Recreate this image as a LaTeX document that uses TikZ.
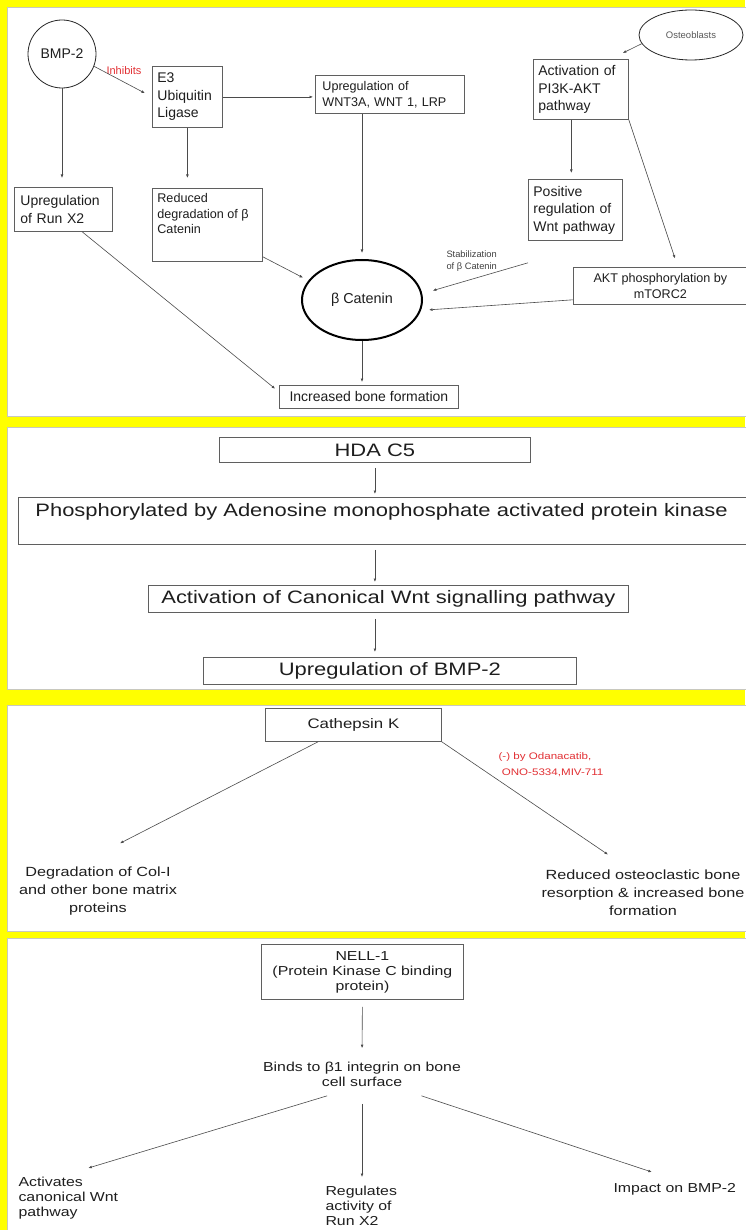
\documentclass[tikz,border=0pt]{standalone}
\usepackage{fontspec}
\setmainfont{Liberation Sans}
\newfontfamily\wf[FakeStretch=1.22]{Liberation Sans}
\usetikzlibrary{arrows.meta,shapes.geometric,calc}
\definecolor{ybg}{RGB}{255,255,0}
\definecolor{lnc}{RGB}{75,75,75}
\definecolor{bxc}{RGB}{95,95,95}
\definecolor{txc}{RGB}{30,30,30}
\definecolor{rdc}{RGB}{226,48,52}
\definecolor{pbc}{RGB}{200,200,190}
\begin{document}
\begin{tikzpicture}[x=1pt,y=-1pt,
  every node/.style={text=txc},
  bbox/.style={draw=bxc, line width=0.8pt, fill=white, inner sep=0pt, anchor=north west},
  arr/.style={draw=lnc, line width=0.6pt, -{Latex[length=3.5pt,width=2.8pt]}},
  panel/.style={fill=white, draw=pbc, line width=0.6pt},
  fa/.style={font=\fontsize{14}{17.5}\selectfont},
  fb/.style={font=\fontsize{12.6}{15.7}\selectfont},
  fw/.style={font=\wf\fontsize{18}{21}\selectfont},
  fc/.style={font=\wf\fontsize{13.3}{18}\selectfont},
  fd/.style={font=\wf\fontsize{13}{15}\selectfont}
]
\useasboundingbox (0,0) rectangle (745,1230);
\fill[ybg] (0,0) rectangle (745,1230);
\draw[panel] (7,7) rectangle (747,416);
\draw[panel] (7,427) rectangle (747,689);
\draw[panel] (7,705) rectangle (747,931);
\draw[panel] (7,938) rectangle (747,1232);

% ---------- panel 1
\node[circle, draw=black!85, line width=0.8pt, minimum size=68pt, inner sep=0pt, fa] (bmp) at (62,54) {BMP-2};
\node[text=rdc, font=\fontsize{11}{13}\selectfont] (inh) at (124,71) {Inhibits};
\node[bbox, minimum width=70pt, minimum height=61pt, text width=60pt, inner xsep=5pt, align=left, fa] (e3) at (152,66) {E3\\Ubiquitin\\Ligase};
\node[bbox, minimum width=149pt, minimum height=38pt, text width=135pt, inner xsep=7pt, align=left, fb] (wnt) at (315,75) {Upregulation of\\WNT3A, WNT 1, LRP};
\node[bbox, fb] (red) at (152,188) {\parbox[c][73pt][t]{110pt}{\raggedright\leftskip=5pt\vspace*{5pt}Reduced\\degradation of β\\Catenin}};
\node[bbox, minimum width=98pt, minimum height=44pt, text width=86pt, inner xsep=6pt, align=left, fa] (runx) at (14,187) {Upregulation\\of Run X2};
\node[ellipse, draw=black, line width=2pt, minimum width=120pt, minimum height=80pt, inner sep=0pt, font=\fontsize{14.4}{17}\selectfont] (beta) at (362,300) {β Catenin};
\node[bbox, minimum width=179pt, minimum height=23pt, fa] (inc) at (279,385) {Increased bone formation};
\node[ellipse, draw=black!85, line width=0.8pt, minimum width=104pt, minimum height=50pt, inner sep=0pt, text=black!65, font=\fontsize{9.5}{11}\selectfont] (ost) at (691,35) {Osteoblasts};
\node[bbox, minimum width=95pt, minimum height=60pt, text width=85pt, inner xsep=5pt, align=left, fa] (pi3k) at (533,59) {Activation of\\PI3K-AKT\\pathway};
\node[bbox, minimum width=94pt, minimum height=61pt, text width=84pt, inner xsep=5pt, align=left, fa] (pos) at (528,179) {Positive\\regulation of\\Wnt pathway};
\node[bbox, minimum width=174pt, minimum height=37pt, align=center, fb] (akt) at (573,267) {AKT phosphorylation by\\mTORC2};
\node[anchor=west, align=left, text=black!75, font=\fontsize{9.3}{11.5}\selectfont] (stab) at (443,261) {Stabilization\\of β Catenin};

\coordinate (pk) at ($(pi3k.south west)!0.4!(pi3k.south east)$);
\coordinate (rx) at ($(runx.south west)!0.69!(runx.south east)$);
\coordinate (ak) at ($(akt.north west)!0.6!(akt.north east)$);
\draw[arr, shorten >=8pt] (bmp.-21) -- (e3.west);
\draw[arr, shorten >=2pt] (e3.east) -- (e3.east -| wnt.west);
\draw[arr, shorten >=10pt] (e3.south) -- (e3.south |- red.north);
\draw[arr, shorten >=9pt] (bmp.south) -- (bmp.south |- runx.north);
\draw[arr, shorten >=5pt] (rx) -- ([yshift=5pt]inc.west);
\draw[arr, shorten >=6pt] ([yshift=5pt]red.south east) -- (beta.160);
\draw[arr, shorten >=6pt] (beta.north |- wnt.south) -- (beta.north);
\draw[arr, shorten >=3pt] (beta.south) -- (beta.south |- inc.north);
\draw[arr] (ost.190) -- ([xshift=-6pt,yshift=6pt]pi3k.north east);
\draw[arr, shorten >=6pt] (pk) -- (pk |- pos.north);
\draw[arr, shorten >=9pt] (pi3k.south east) -- (ak);
\draw[arr, shorten >=11pt] ([yshift=-22pt]pos.south west) -- (beta.6);
\draw[arr, shorten >=8pt] ([yshift=5pt]akt.south west) -- (beta.-10);

% ---------- panel 2
\node[bbox, minimum width=311pt, minimum height=25pt, fw] (hda) at (219,437) {HDA C5};
\node[bbox, fw] (phos) at (18,497) {\parbox[c][47pt][t]{740pt}{\vspace*{6pt}\hspace*{17pt}Phosphorylated by Adenosine monophosphate activated protein kinase}};
\node[bbox, minimum width=480pt, minimum height=27pt, fw] (act) at (148,585) {Activation of Canonical Wnt signalling pathway};
\node[bbox, minimum width=373pt, minimum height=27pt, fw] (upb) at (203,657) {Upregulation of BMP-2};
\draw[arr, shorten <=5pt, shorten >=3pt] (hda.south) -- (hda.south |- phos.north);
\draw[arr, shorten <=5pt, shorten >=3pt] (hda.south |- phos.south) -- (hda.south |- act.north);
\draw[arr, shorten <=6pt, shorten >=5pt] (hda.south |- act.south) -- (hda.south |- upb.north);

% ---------- panel 3
\node[bbox, minimum width=176pt, minimum height=33pt, font=\wf\fontsize{13.8}{18}\selectfont] (cath) at (265,708) {Cathepsin K};
\node[align=center, fc] (deg) at (98,891) {Degradation of Col-I\\and other bone matrix\\proteins};
\node[align=center, fc] (res) at (643,893) {Reduced osteoclastic bone\\resorption \& increased bone\\formation};
\node[align=left, text=rdc, font=\wf\fontsize{9.5}{16}\selectfont] (drug) at (551,765) {(-) by Odanacatib,\\\ ONO-5334,MIV-711};
\draw[arr] ($(cath.south west)!0.3!(cath.south east)$) -- ([xshift=22pt,yshift=20pt]deg.north);
\draw[arr] (cath.south east) -- ([xshift=-35pt,yshift=12pt]res.north);

% ---------- panel 4
\node[bbox, minimum width=202pt, minimum height=55pt, align=center, fd] (nell) at (261,944) {NELL-1\\(Protein Kinase C binding\\protein)};
\node[align=center, fd] (binds) at (362,1074) {Binds to β1 integrin on bone\\cell surface};
\node[anchor=north west, align=left, fd] (actw) at (15,1174) {Activates\\canonical Wnt\\pathway};
\node[anchor=north west, align=left, fd] (reg) at (322,1183) {Regulates\\activity of\\Run X2};
\node[anchor=north west, fd] (imp) at (610,1180) {Impact on BMP-2};
\draw[arr, shorten <=7pt, shorten >=10pt] (nell.south) -- (binds.north);
\draw[arr] ([yshift=-6pt]$(binds.south west)!0.33!(binds.south east)$) -- ([xshift=20pt,yshift=6pt]actw.north);
\draw[arr, shorten <=14pt, shorten >=6pt] (binds.south) -- (binds.south |- reg.north);
\draw[arr] ([yshift=-6pt]$(binds.south west)!0.79!(binds.south east)$) -- ([xshift=-23pt,yshift=8pt]imp.north);
\end{tikzpicture}
\end{document}
